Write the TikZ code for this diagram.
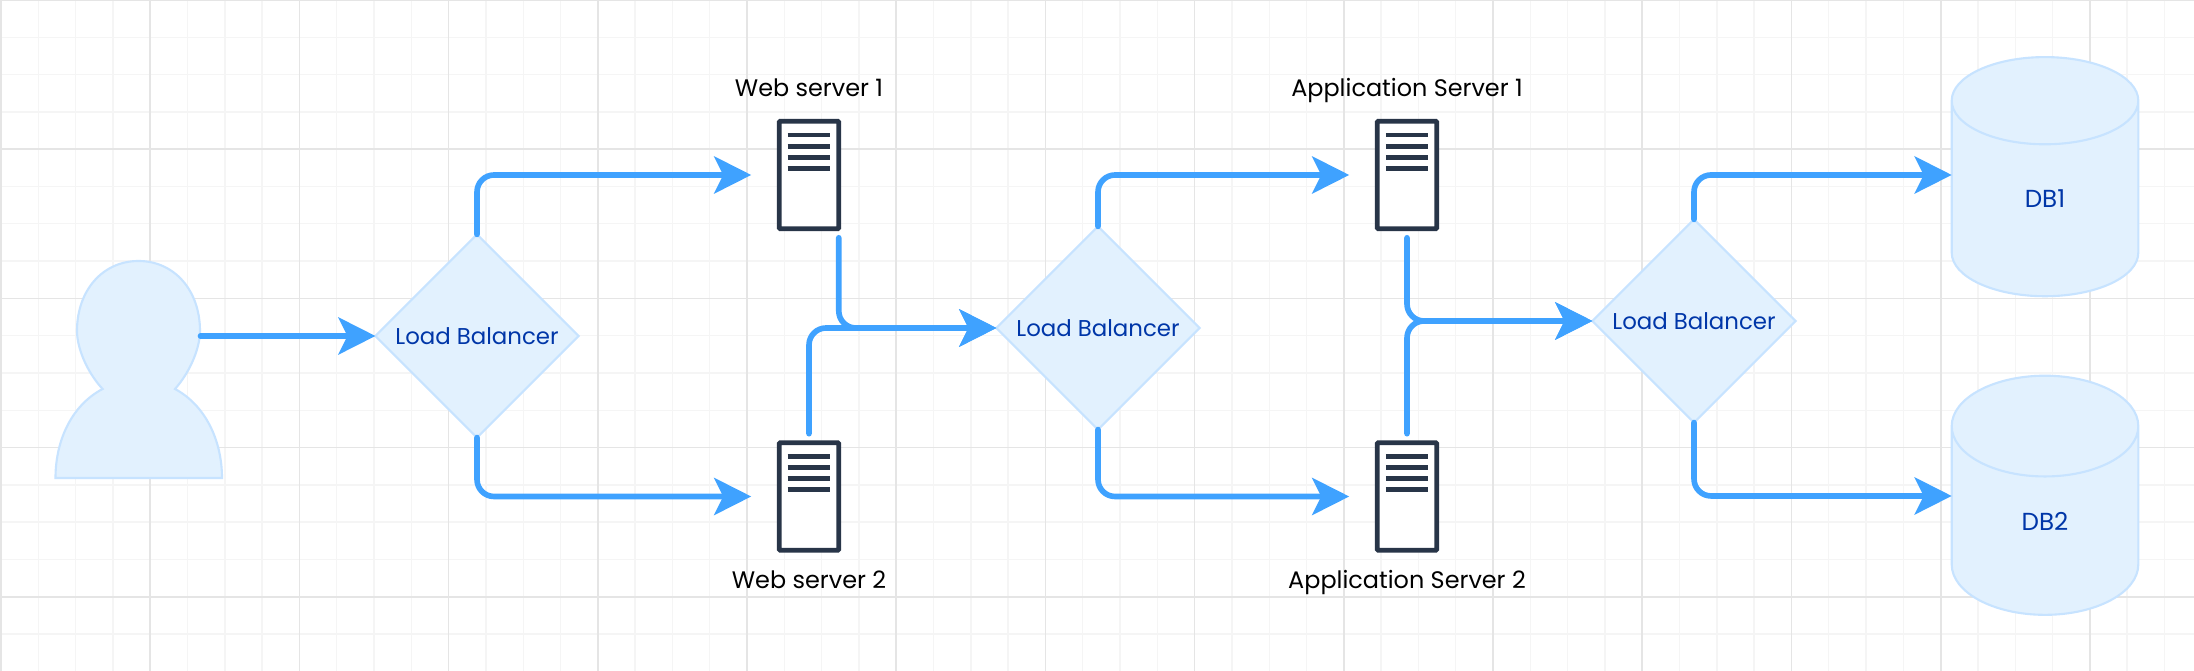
\documentclass[tikz,border=0pt]{standalone}
\usepackage{fontspec}
\setmainfont{Poppins}
\usetikzlibrary{arrows.meta,positioning,shapes.geometric}
\definecolor{wireblue}{HTML}{3FA2FF}
\definecolor{paleblue}{HTML}{E2F1FE}
\definecolor{edgeblue}{HTML}{C7E3FF}
\definecolor{inkblue}{HTML}{0036A8}
\definecolor{rackdark}{HTML}{283548}
\tikzset{
    minorgrid/.style={draw=black!4,line width=0.4pt},
    majorgrid/.style={draw=black!10,line width=0.5pt},
    wire/.style={draw=wireblue,line width=1.6pt,line cap=round,rounded corners=0.17cm,-{Stealth[length=3.7mm,width=3.7mm,inset=0.9mm]}},
    balancer/.style={diamond,draw=edgeblue,fill=paleblue,line width=0.6pt,minimum width=2.03cm,minimum height=2.03cm,inner sep=0pt,outer sep=0pt,text=inkblue,font=\fontsize{6.5}{8}\selectfont},
    rack/.style={draw=rackdark,fill=white,line width=1.35pt,rounded corners=0.3pt,minimum width=0.595cm,minimum height=1.075cm,inner sep=0pt,outer sep=0pt},
    rackbar/.style={draw=rackdark,line width=1.3pt},
    caption/.style={font=\fontsize{6.8}{8}\selectfont,text=black,inner sep=0pt,text height=5.5pt,text depth=1.5pt},
    dbstore/.style={cylinder,shape border rotate=90,aspect=2.16,draw=edgeblue,fill=paleblue,line width=0.6pt,minimum width=1.865cm,minimum height=2.39cm,inner sep=0pt,outer sep=0pt,text=inkblue,font=\fontsize{7}{8}\selectfont}
}
\newcommand{\rackbars}[1]{
    \foreach \dy in {0.14,0.25,0.36,0.47}
        \draw[rackbar] ([xshift=0.085cm,yshift=-\dy cm]#1.north west) -- ([xshift=-0.085cm,yshift=-\dy cm]#1.north east);
}
\begin{document}
\begin{tikzpicture}[x=0.01cm,y=-0.01cm]
    \useasboundingbox (0,0) rectangle (2194,671);
    \fill[white] (0,0) rectangle (2194,671);
    \foreach \n in {0,...,58}
        \draw[minorgrid] ({1+37.3*\n},0) -- ({1+37.3*\n},671);
    \foreach \n in {0,...,17}
        \draw[minorgrid] (0,{37.3*\n}) -- (2194,{37.3*\n});
    \foreach \n in {0,...,14}
        \draw[majorgrid] ({1+149.2*\n},0) -- ({1+149.2*\n},671);
    \foreach \n in {0,...,4}
        \draw[majorgrid] (0,{149.2*\n}) -- (2194,{149.2*\n});

    \filldraw[fill=paleblue,draw=edgeblue,line width=0.6pt] (102.6,389) .. controls (86,371) and (77,347) .. (77,331) .. controls (77,290) and (103,261) .. (138.5,261) .. controls (174,261) and (200,290) .. (200,331) .. controls (200,347) and (191,371) .. (175,389) .. controls (205,405) and (222,440) .. (222,478) -- (55.5,478) .. controls (55.5,440) and (72,405) .. (102.6,389) -- cycle;
    \coordinate (user) at (200.5,336);

    \node[balancer] (lb1) at (477,336) {Load Balancer};
    \node[balancer] (lb2) at (1098,328) {Load Balancer};
    \node[balancer] (lb3) at (1694,321) {Load Balancer};

    \node[rack] (web1) at (809,175) {};
    \node[rack] (web2) at (809,496.5) {};
    \node[rack] (app1) at (1407,175) {};
    \node[rack] (app2) at (1407,496.5) {};
    \rackbars{web1}
    \rackbars{web2}
    \rackbars{app1}
    \rackbars{app2}

    \node[caption,above=0.187cm of web1] (web1txt) {Web server 1};
    \node[caption,below=0.186cm of web2] (web2txt) {Web server 2};
    \node[caption,above=0.187cm of app1] (app1txt) {Application Server 1};
    \node[caption,below=0.186cm of app2] (app2txt) {Application Server 2};

    \node[dbstore] (db1) at (2045,199) {DB1};
    \node[dbstore] (db2) at (2045,521) {DB2};

    \draw[wire] (user) -- (lb1.west);
    \draw[wire,shorten >=0.28cm] (lb1.north) |- (web1.west);
    \draw[wire,shorten >=0.28cm] (lb1.south) |- (web2.west);
    \draw[wire,shorten <=0.09cm] (web1.south east) |- (lb2.west);
    \draw[wire,shorten <=0.09cm] (web2.north) |- (lb2.west);
    \draw[wire,shorten >=0.28cm] (lb2.north) |- (app1.west);
    \draw[wire,shorten >=0.28cm] (lb2.south) |- (app2.west);
    \draw[wire,shorten <=0.09cm] (app1.south) |- (lb3.west);
    \draw[wire,shorten <=0.09cm] (app2.north) |- (lb3.west);
    \draw[wire] (lb3.north) |- ([yshift=0.24cm]db1.west);
    \draw[wire] (lb3.south) |- ([yshift=0.25cm]db2.west);
\end{tikzpicture}
\end{document}
